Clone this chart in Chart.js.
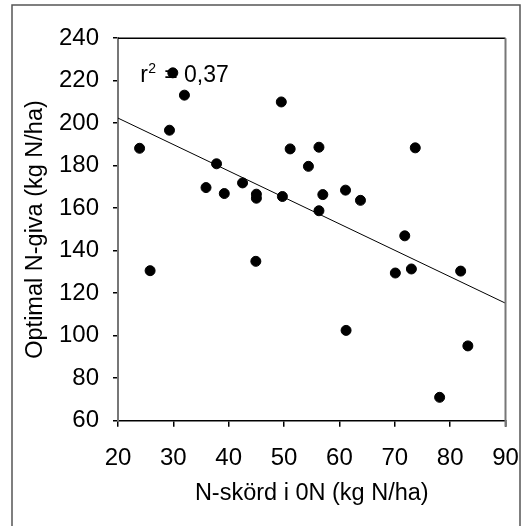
<!DOCTYPE html>
<html>
<head>
<meta charset="utf-8">
<script src="https://cdn.jsdelivr.net/npm/chart.js@4"></script>
<style>
html,body{margin:0;padding:0;background:#fff;}
#wrap{width:521px;height:526px;position:relative;}
</style>
</head>
<body>
<div id="wrap"><canvas id="c" width="521" height="526"></canvas></div>
<script>
const xValues = [23.9,25.8,29.3,29.9,32.0,35.9,37.8,39.2,42.5,45.0,45.0,44.9,49.5,49.7,51.1,54.4,56.3,56.3,57.0,61.1,61.2,63.8,70.1,71.8,73.0,73.7,78.1,81.9,83.2];
const yValues = [188.2,130.6,196.7,223.7,213.2,169.7,180.9,166.9,171.9,166.6,164.7,135.0,210.0,165.5,187.9,179.7,188.7,158.8,166.4,168.5,102.5,163.7,129.5,147.0,131.4,188.4,71.0,130.4,95.2];
const trendX = [20, 90];
const trendY = [202.4, 115.3];
const xTitle = "N-skörd i 0N (kg N/ha)";
const yTitle = "Optimal N-giva (kg N/ha)";
const rSquaredText = "0,37";

const points = xValues.map((x, i) => ({x: x, y: yValues[i]}));
const trend = trendX.map((x, i) => ({x: x, y: trendY[i]}));

const FONT = "'Liberation Sans', Arial, sans-serif";

const framePlugin = {
  id: 'frame',
  beforeDatasetsDraw(chart) {
    const ctx = chart.ctx;
    const xs = chart.scales.x, ys = chart.scales.y;
    const px = xs.getPixelForValue(24), py = ys.getPixelForValue(219.5);
    ctx.save();
    ctx.fillStyle = '#000';
    ctx.textBaseline = 'alphabetic';
    ctx.textAlign = 'left';
    ctx.font = '23px ' + FONT;
    ctx.fillText('r', px, py);
    ctx.font = '14px ' + FONT;
    ctx.fillText('2', px + 8, py - 9);
    ctx.font = '23px ' + FONT;
    ctx.fillText('= ' + rSquaredText, px + 24, py);
    ctx.restore();
  },
  afterDraw(chart) {
    const ctx = chart.ctx;
    const a = chart.chartArea;
    ctx.save();
    ctx.lineWidth = 1.5;
    ctx.strokeStyle = '#000';
    ctx.beginPath();
    ctx.moveTo(a.left, a.top);
    ctx.lineTo(a.right, a.top);
    ctx.stroke();
    ctx.lineWidth = 2;
    ctx.strokeStyle = '#777';
    ctx.beginPath();
    ctx.moveTo(a.right, a.top);
    ctx.lineTo(a.right, a.bottom + 6);
    ctx.stroke();
    ctx.lineWidth = 1.5;
    ctx.strokeStyle = '#555';
    ctx.beginPath();
    ctx.moveTo(12, 530);
    ctx.lineTo(12, 5);
    ctx.lineTo(520, 5);
    ctx.lineTo(520, 530);
    ctx.stroke();
    ctx.restore();
  }
};

new Chart(document.getElementById('c'), {
  type: 'scatter',
  data: {
    datasets: [
      {
        type: 'scatter',
        data: points,
        backgroundColor: '#000',
        borderColor: '#000',
        pointRadius: 5,
        pointHoverRadius: 5,
        order: 1
      },
      {
        type: 'line',
        data: trend,
        borderColor: '#000',
        borderWidth: 1,
        pointRadius: 0,
        fill: false,
        order: 2
      }
    ]
  },
  plugins: [framePlugin],
  options: {
    responsive: false,
    animation: false,
    events: [],
    layout: {padding: {left: 0, right: 15.5, top: 38.2, bottom: 0}},
    plugins: {legend: {display: false}, tooltip: {enabled: false}},
    scales: {
      x: {
        type: 'linear',
        min: 20, max: 90,
        afterFit(s) { s.height = 105.3; s.paddingLeft = 0; s.paddingRight = 0; },
        ticks: {stepSize: 10, color: '#000', padding: 17, font: {family: FONT, size: 24}, maxRotation: 0},
        grid: {drawOnChartArea: false, drawTicks: true, tickLength: 6, color: '#000', lineWidth: 1.5},
        border: {color: '#000', width: 1.5},
        title: {display: true, text: xTitle, color: '#000', font: {family: FONT, size: 23.5}, padding: {top: 0, bottom: 18}}
      },
      y: {
        type: 'linear',
        min: 60, max: 240,
        afterFit(s) { s.width = 118; s.paddingTop = 0; s.paddingBottom = 0; },
        ticks: {stepSize: 20, color: '#000', padding: 14, font: {family: FONT, size: 24}},
        grid: {drawOnChartArea: false, drawTicks: true, tickLength: 5, color: '#000', lineWidth: 1.5},
        border: {color: '#777', width: 2},
        title: {display: true, text: yTitle, color: '#000', font: {family: FONT, size: 23.5}, padding: {top: 21, bottom: 0}}
      }
    }
  }
});
</script>
</body>
</html>
